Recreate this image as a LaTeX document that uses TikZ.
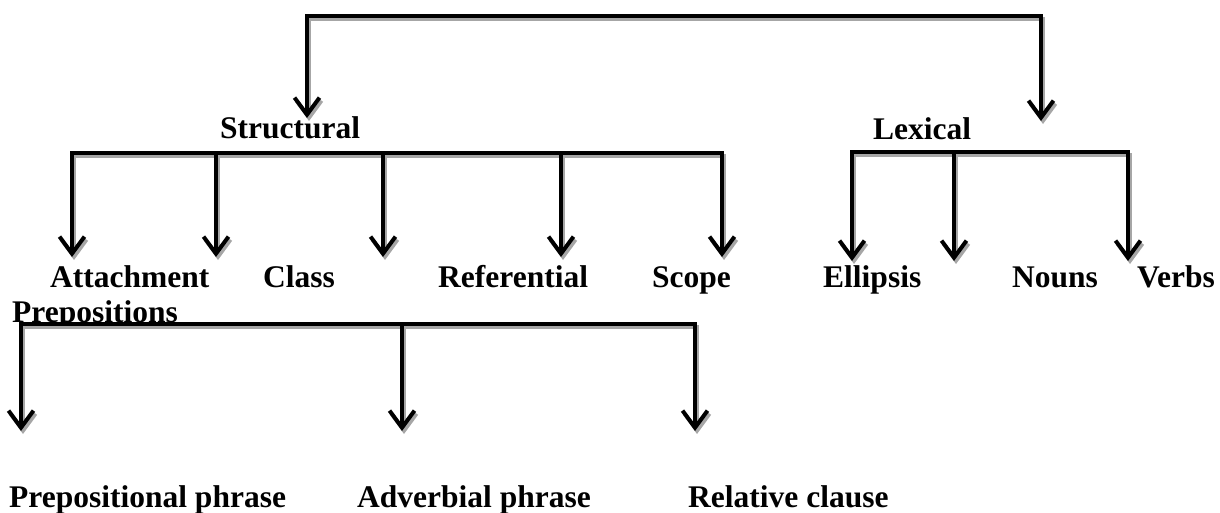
\documentclass[tikz,border=0pt]{standalone}
\usepackage{fontspec}
\setmainfont{Liberation Serif}
\usetikzlibrary{arrows.meta}
\tikzset{
  lbl/.style={font=\bfseries\fontsize{31.5}{31.5}\selectfont, inner sep=0pt, anchor=base west},
  >={Straight Barb[length=17pt,width=25pt,line width=4pt]},
  conn/.style={line width=4pt, line join=miter, line cap=butt},
  shad/.style={conn, draw=black!35, transform canvas={shift={(2pt,-3pt)}}},
}
\newcommand\sdraw[2]{\draw[shad,#1] #2; \draw[conn,#1] #2;}
\begin{document}
\begin{tikzpicture}[x=1pt,y=-1pt]
\useasboundingbox (0,0) rectangle (1220,512);
% labels
\node[lbl] (structural) at (220,138) {Structural};
\node[lbl] (lexical) at (873,139) {Lexical};
\node[lbl] (attachment) at (50,287) {Attachment};
\node[lbl] (class) at (263,287) {Class};
\node[lbl] (referential) at (438,287) {Referential};
\node[lbl] (scope) at (652,287) {Scope};
\node[lbl] (ellipsis) at (823,287) {Ellipsis};
\node[lbl] (nouns) at (1012,287) {Nouns};
\node[lbl] (verbs) at (1137,287) {Verbs};
\node[lbl] (prepositions) at (12,322) {Prepositions};
\node[lbl] (pp) at (9,507) {Prepositional phrase};
\node[lbl] (ap) at (357,507) {Adverbial phrase};
\node[lbl] (rc) at (688,507) {Relative clause};
% coordinates
\coordinate (a1) at (307,118); \coordinate (tl) at (307,16);
\coordinate (tr) at (1041,16); \coordinate (a2) at (1041,121);
\foreach \n/\x in {1/72,2/216,3/383,4/561,5/722}{
  \coordinate (s\n) at (\x,153); \coordinate (st\n) at (\x,257);}
\foreach \n/\x in {1/852,2/954,3/1128}{
  \coordinate (l\n) at (\x,152); \coordinate (lt\n) at (\x,261);}
\foreach \n/\x in {1/21,2/402,3/695}{
  \coordinate (p\n) at (\x,324); \coordinate (pt\n) at (\x,431);}
% connectors
\sdraw{<->}{(a1) -- (tl) -- (tr) -- (a2)}
\sdraw{<->}{(st1) -- (s1) -- (s5) -- (st5)}
\sdraw{->}{(s2) -- (st2)}
\sdraw{->}{(s3) -- (st3)}
\sdraw{->}{(s4) -- (st4)}
\sdraw{<->}{(lt1) -- (l1) -- (l3) -- (lt3)}
\sdraw{->}{(l2) -- (lt2)}
\sdraw{<->}{(pt1) -- (p1) -- (p3) -- (pt3)}
\sdraw{->}{(p2) -- (pt2)}
\end{tikzpicture}
\end{document}
